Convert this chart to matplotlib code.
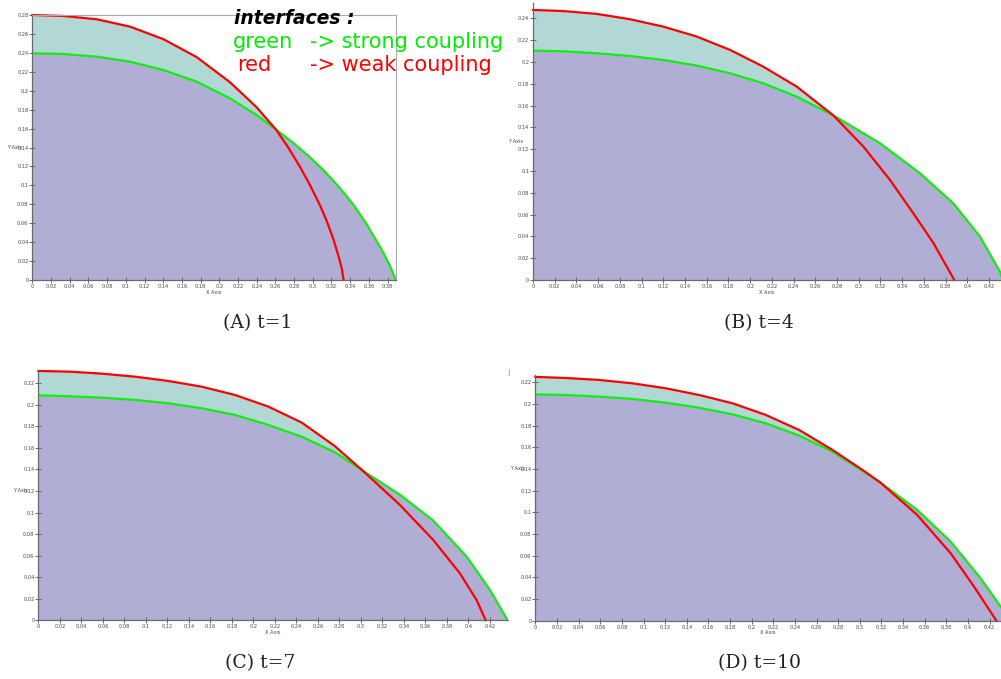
import numpy as np
import matplotlib
matplotlib.use('Agg')
import matplotlib.pyplot as plt
from matplotlib.ticker import FormatStrFormatter

# interface curves, (x, y) for each time step
a_red_x = [0, 0.0331, 0.0688, 0.1045, 0.1401, 0.1758, 0.2114, 0.2399, 0.2606, 0.2738, 0.2863, 0.2970,
           0.3077, 0.3148, 0.3220, 0.3273, 0.3309, 0.3330]
a_red_y = [0.2800, 0.2790, 0.2755, 0.2677, 0.2545, 0.2355, 0.2090, 0.1825, 0.1590, 0.1399, 0.1196, 0.1003,
           0.0789, 0.0626, 0.0432, 0.0260, 0.0125, 0.0]
a_green_x = [0, 0.0331, 0.0688, 0.1045, 0.1401, 0.1758, 0.2114, 0.2399, 0.2606, 0.2790, 0.2970, 0.3130,
             0.3290, 0.3435, 0.3576, 0.3754, 0.3830, 0.3889]
a_green_y = [0.2395, 0.2388, 0.2360, 0.2307, 0.2219, 0.2096, 0.1920, 0.1743, 0.1590, 0.1450, 0.1297, 0.1145,
             0.0972, 0.0795, 0.0591, 0.0290, 0.0140, 0.0]

b_red_x = [0, 0.0279, 0.0587, 0.0893, 0.1200, 0.1508, 0.1814, 0.2121, 0.2429, 0.2765, 0.3043, 0.3288,
           0.3503, 0.3687, 0.3795, 0.3880]
b_red_y = [0.2476, 0.2466, 0.2440, 0.2391, 0.2323, 0.2232, 0.2110, 0.1956, 0.1773, 0.1510, 0.1223, 0.0917,
           0.0611, 0.0340, 0.0150, 0.0]
b_green_x = [0, 0.0279, 0.0587, 0.0893, 0.1200, 0.1508, 0.1814, 0.2121, 0.2429, 0.2765, 0.3196, 0.3564,
             0.3871, 0.4117, 0.4301, 0.4325]
b_green_y = [0.2103, 0.2097, 0.2079, 0.2054, 0.2018, 0.1966, 0.1896, 0.1804, 0.1681, 0.1510, 0.1254, 0.0979,
             0.0703, 0.0397, 0.0076, 0.0]

c_red_x = [0, 0.0279, 0.0589, 0.0899, 0.1209, 0.1519, 0.1829, 0.2139, 0.2449, 0.2759, 0.3015, 0.3363,
           0.3673, 0.3921, 0.4076, 0.4160]
c_red_y = [0.2314, 0.2308, 0.2289, 0.2261, 0.2221, 0.2168, 0.2091, 0.1983, 0.1835, 0.1615, 0.1390, 0.1070,
           0.0745, 0.0435, 0.0187, 0.0]
c_green_x = [0, 0.0279, 0.0589, 0.0899, 0.1209, 0.1519, 0.1829, 0.2139, 0.2449, 0.2759, 0.3015, 0.3363,
             0.3673, 0.3983, 0.4200, 0.4364]
c_green_y = [0.2088, 0.2079, 0.2066, 0.2045, 0.2014, 0.1968, 0.1906, 0.1813, 0.1704, 0.1559, 0.1390, 0.1165,
             0.0925, 0.0591, 0.0282, 0.0]

d_red_x = [0, 0.0278, 0.0587, 0.0895, 0.1204, 0.1513, 0.1821, 0.2130, 0.2439, 0.2747, 0.3025, 0.3191,
           0.3531, 0.3840, 0.4056, 0.4262]
d_red_y = [0.2250, 0.2240, 0.2222, 0.2191, 0.2145, 0.2083, 0.2007, 0.1899, 0.1760, 0.1576, 0.1391, 0.1274,
           0.0975, 0.0622, 0.0314, 0.0]
d_green_x = [0, 0.0278, 0.0587, 0.0895, 0.1204, 0.1513, 0.1821, 0.2130, 0.2439, 0.2747, 0.3025, 0.3191,
             0.3531, 0.3840, 0.4117, 0.4306, 0.4390]
d_green_y = [0.2088, 0.2083, 0.2068, 0.2047, 0.2012, 0.1966, 0.1905, 0.1822, 0.1708, 0.1560, 0.1382, 0.1274,
             0.1022, 0.0729, 0.0390, 0.0125, 0.0]

captions = ['(A) t=1', '(B) t=4', '(C) t=7', '(D) t=10']

RED = '#ff0000'
GREEN = '#10ee10'
TEAL = '#b1d8d5'
PURPLE = '#b0aed4'
AXCOL = '#6a6a6a'


def panel(rect, xmax, ymax, red_x, red_y, green_x, green_y, ylab_pos, box=False):
    ax = fig.add_axes(rect)
    ax.set_xlim(0, xmax)
    ax.set_ylim(0, ymax)
    # region under the weak coupling interface, then strong on top of it
    ax.fill_between(red_x, red_y, 0, color=TEAL, lw=0)
    ax.fill_between(green_x, green_y, 0, color=PURPLE, lw=0)
    ax.plot(green_x, green_y, color=GREEN, lw=1.6, solid_joinstyle='round')
    ax.plot(red_x, red_y, color=RED, lw=1.6, clip_on=False, solid_joinstyle='round')
    ax.set_xticks(np.round(np.arange(0, xmax + 1e-9, 0.02), 2))
    ax.set_yticks(np.round(np.arange(0, ymax + 1e-9, 0.02), 2))
    ax.xaxis.set_major_formatter(FormatStrFormatter('%g'))
    ax.yaxis.set_major_formatter(FormatStrFormatter('%g'))
    ax.tick_params(labelsize=3.6, labelcolor='#444444', color=AXCOL,
                   direction='inout', length=4, width=0.7, pad=0.8)
    for s in ['left', 'bottom']:
        ax.spines[s].set_color(AXCOL)
        ax.spines[s].set_linewidth(0.9)
    for s in ['top', 'right']:
        if box:
            ax.spines[s].set_color('#aaaaaa')
            ax.spines[s].set_linewidth(0.8)
        else:
            ax.spines[s].set_visible(False)
    ax.set_facecolor('none')
    ax.annotate('Y Axis', xy=(0, ylab_pos), xycoords='axes fraction', xytext=(-10, 0),
                textcoords='offset pixels', ha='right', va='center', fontsize=3.6, color='#444444')
    ax.annotate('X Axis', xy=(0.5, 0), xycoords='axes fraction', xytext=(0, -12),
                textcoords='offset pixels', ha='center', va='center', fontsize=3.6, color='#444444')
    return ax


fig = plt.figure(figsize=(10.01, 6.79), dpi=100)

panel([0.0323, 0.5876, 0.3633, 0.3903], 0.389, 0.2800, a_red_x, a_red_y, a_green_x, a_green_y, 0.5, box=True)
panel([0.5325, 0.5876, 0.4675, 0.4080], 0.431, 0.2540, b_red_x, b_red_y, b_green_x, b_green_y, 0.5)
panel([0.0383, 0.0865, 0.4689, 0.3686], 0.4365, 0.2323, c_red_x, c_red_y, c_green_x, c_green_y, 0.52)
panel([0.5348, 0.0859, 0.4652, 0.3619], 0.4305, 0.2268, d_red_x, d_red_y, d_green_x, d_green_y, 0.62)

# legend text written over panel A
W, H = 1001.0, 679.0
fig.text(234 / W, 1 - 24 / H, 'interfaces :', fontsize=13.5, fontweight='bold', style='italic',
         color='black', va='baseline')
fig.text(233 / W, 1 - 48 / H, 'green', fontsize=15, color='#00ee00', va='baseline')
fig.text(310 / W, 1 - 48 / H, '-> strong coupling', fontsize=15, color='#00ee00', va='baseline')
fig.text(237 / W, 1 - 71 / H, 'red', fontsize=15, color=RED, va='baseline')
fig.text(310 / W, 1 - 71 / H, '-> weak coupling', fontsize=15, color=RED, va='baseline')

# sub-figure captions
cap_pos = [(258, 323), (759, 323), (260, 663), (760, 663)]
for (cx, cy), cap in zip(cap_pos, captions):
    fig.text(cx / W, 1 - cy / H, cap, fontsize=13.5, family='DejaVu Serif',
             ha='center', va='center', color='#222222')

fig.text(508 / W, 1 - 372 / H, '|', fontsize=5, color='#777777', ha='center', va='center')

fig.savefig('out.png', dpi=100)
